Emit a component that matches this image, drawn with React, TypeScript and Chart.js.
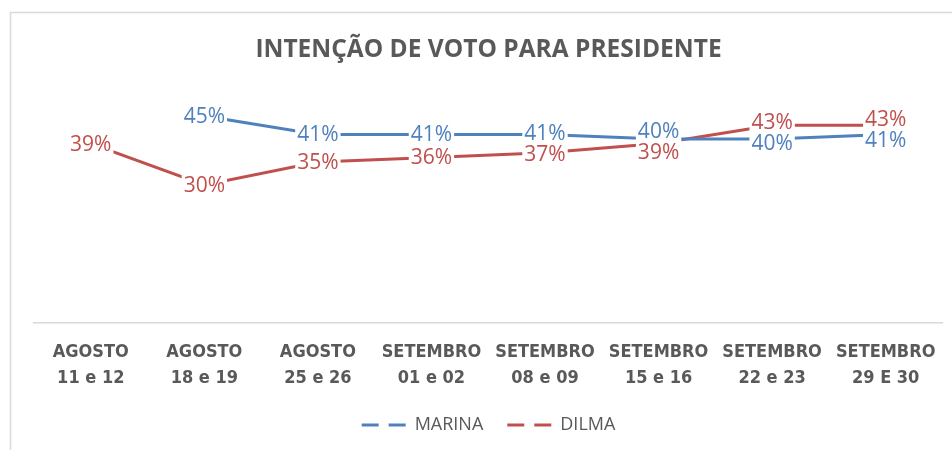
import React, { useEffect, useRef } from "react";
import { Chart, registerables } from "chart.js";

Chart.register(...registerables);

// ---- data ----
const categories: string[][] = [
  ["AGOSTO", "11 e 12"],
  ["AGOSTO", "18 e 19"],
  ["AGOSTO", "25 e 26"],
  ["SETEMBRO", "01 e 02"],
  ["SETEMBRO", "08 e 09"],
  ["SETEMBRO", "15 e 16"],
  ["SETEMBRO", "22 e 23"],
  ["SETEMBRO", "29 E 30"],
];
const marina: (number | null)[] = [null, 45, 41, 41, 41, 40, 40, 41];
const dilma: (number | null)[] = [39, 30, 35, 36, 37, 39, 43, 43];
const seriesNames = ["MARINA", "DILMA"];
const chartTitle = "INTENÇÃO DE VOTO PARA PRESIDENTE";

// ---- styles ----
const BLUE = "#4f81bd";
const RED = "#c0504d";
const GRAY_TEXT = "#595959";
const FRAME = "#d9d9d9";
const LABEL_FONT = '21px "Open Sans", sans-serif';
const MIN_LABEL_GAP = 21;

const framePlugin = {
  id: "frame",
  beforeDraw(chart: any) {
    const { ctx, width, height } = chart;
    ctx.save();
    ctx.fillStyle = "#ffffff";
    ctx.fillRect(0, 0, width, height);
    ctx.strokeStyle = FRAME;
    ctx.lineWidth = 1.5;
    ctx.strokeRect(10.5, 12.5, width + 20, height + 20);
    ctx.restore();
  },
};

const pointLabelPlugin = {
  id: "pointLabels",
  afterDatasetsDraw(chart: any) {
    const ctx = chart.ctx;
    const n = chart.data.labels.length;
    ctx.save();
    ctx.font = LABEL_FONT;
    ctx.textAlign = "center";
    ctx.textBaseline = "middle";
    for (let i = 0; i < n; i++) {
      const items: { x: number; y: number; text: string; color: string }[] = [];
      chart.data.datasets.forEach((ds: any, di: number) => {
        const v = ds.data[i];
        if (v === null || v === undefined) return;
        const el = chart.getDatasetMeta(di).data[i];
        items.push({ x: el.x, y: el.y, text: v + "%", color: ds.borderColor });
      });
      items.sort((a, b) => a.y - b.y);
      for (let k = 1; k < items.length; k++) {
        const a = items[k - 1];
        const b = items[k];
        if (b.y - a.y < MIN_LABEL_GAP) {
          const mid = (a.y + b.y) / 2;
          a.y = mid - MIN_LABEL_GAP / 2;
          b.y = mid + MIN_LABEL_GAP / 2;
        }
      }
      items.forEach((it) => {
        const w = ctx.measureText(it.text).width + 4;
        ctx.fillStyle = "#ffffff";
        ctx.fillRect(it.x - w / 2, it.y - 12, w, 24);
        ctx.fillStyle = it.color;
        ctx.fillText(it.text, it.x, it.y + 1);
      });
    }
    ctx.restore();
  },
};

export default function App() {
  const ref = useRef<HTMLCanvasElement | null>(null);

  useEffect(() => {
    document.body.style.margin = "0";
    const canvas = ref.current;
    if (!canvas) return;
    const chart = new Chart(canvas, {
      type: "line",
      data: {
        labels: categories,
        datasets: [
          {
            label: seriesNames[0],
            data: marina,
            borderColor: BLUE,
            backgroundColor: BLUE,
            borderWidth: 3,
            pointRadius: 0,
            pointHoverRadius: 0,
            tension: 0,
            spanGaps: false,
          },
          {
            label: seriesNames[1],
            data: dilma,
            borderColor: RED,
            backgroundColor: RED,
            borderWidth: 3,
            pointRadius: 0,
            pointHoverRadius: 0,
            tension: 0,
          },
        ],
      },
      options: {
        animation: false,
        responsive: false,
        devicePixelRatio: 1,
        layout: { padding: { left: 34, right: 9, top: 0, bottom: 6 } },
        plugins: {
          tooltip: { enabled: false },
          title: {
            display: true,
            text: chartTitle,
            color: GRAY_TEXT,
            font: { family: '"Open Sans", sans-serif', size: 24.5, weight: "bold", lineHeight: 1.2 },
            padding: { top: 35, bottom: 28.6 },
          },
          legend: {
            display: true,
            position: "bottom",
            labels: {
              usePointStyle: true,
              pointStyleWidth: 44,
              padding: 24,
              color: GRAY_TEXT,
              font: { family: '"Open Sans", sans-serif', size: 18 },
              generateLabels: (c: any) =>
                c.data.datasets.map((ds: any, i: number) => ({
                  text: ds.label,
                  fillStyle: ds.borderColor,
                  strokeStyle: ds.borderColor,
                  fontColor: GRAY_TEXT,
                  lineWidth: 3,
                  lineDash: [17, 10],
                  lineCap: "butt",
                  pointStyle: "line",
                  hidden: false,
                  datasetIndex: i,
                })),
            },
          },
        },
        scales: {
          x: {
            type: "category",
            offset: true,
            grid: { display: false, drawTicks: false },
            border: { display: true, color: FRAME, width: 1.5 },
            afterFit: (scale: any) => {
              scale.height = 69;
            },
            ticks: {
              color: GRAY_TEXT,
              autoSkip: false,
              maxRotation: 0,
              minRotation: 0,
              padding: 16,
              font: {
                family: '"DejaVu Sans Condensed", "Open Sans", sans-serif',
                size: 18,
                weight: "bold",
                lineHeight: 1.47,
              },
            },
          },
          y: {
            display: false,
            min: 0,
            max: 50,
          },
        },
      },
      plugins: [framePlugin, pointLabelPlugin],
    } as any);
    return () => chart.destroy();
  }, []);

  return (
    <div style={{ width: 952, height: 450 }}>
      <canvas ref={ref} width={952} height={450} style={{ display: "block" }} />
    </div>
  );
}
